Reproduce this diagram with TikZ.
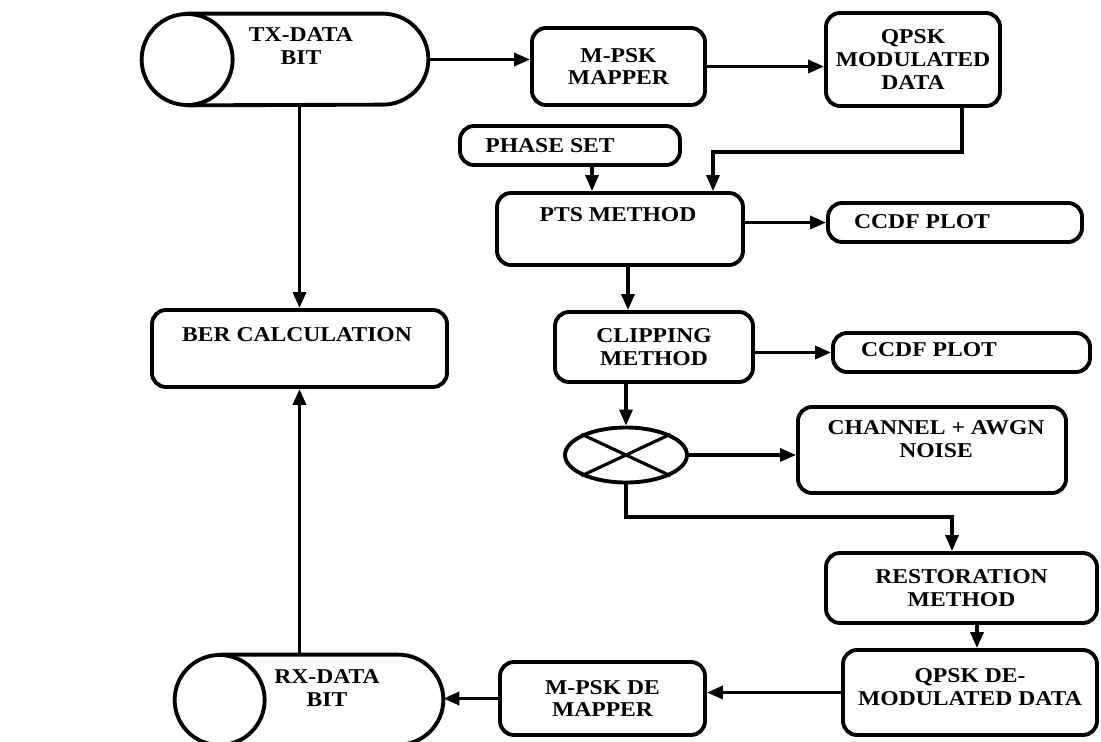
\documentclass[tikz,border=0pt]{standalone}
\usepackage{fontspec}
\setmainfont{Liberation Serif}[FakeStretch=1.12]
\usetikzlibrary{arrows.meta,shapes.geometric}

\begin{document}
\begin{tikzpicture}[
  box/.style={draw, line width=2.2pt, rounded corners=0.28cm, align=center, inner sep=0pt},
  drum/.style={inner sep=0pt},
  txt/.style={align=center, inner sep=0pt},
  arr/.style={-{Triangle[length=0.32cm,width=0.26cm]}, line width=1.9pt},
  font=\fontsize{12}{13}\selectfont\bfseries
]
\useasboundingbox (0,0) rectangle (22.02,-14.84);

% top row
\node[drum, minimum width=5.72cm, minimum height=1.82cm] (tx) at (5.7,-1.19) {};
\draw[line width=2.2pt] ([xshift=0.91cm]tx.north west) -- ([xshift=-0.91cm]tx.north east)
  arc[start angle=90, end angle=-90, radius=0.91cm] -- ([xshift=0.91cm]tx.south west);
\draw[line width=2.2pt] ([xshift=0.91cm]tx.west) circle (0.91cm);
\node[txt] (txtxt) at (6.02,-0.92) {TX-DATA\\BIT};
\node[box, minimum width=3.46cm, minimum height=1.54cm] (mpsk) at (12.37,-1.33) {M-PSK\\MAPPER};
\node[box, minimum width=3.48cm, minimum height=1.86cm] (qmod) at (18.26,-1.19) {QPSK\\MODULATED\\DATA};

\draw[arr] (tx.east) -- (tx.east -| mpsk.west);
\draw[arr] (mpsk.east) -- (mpsk.east -| qmod.west);

% pts and clipping
\node[box, minimum width=4.4cm, minimum height=0.78cm] (phase) at (11.4,-2.91) {};
\node[txt] (phasetxt) at (11.0,-2.92) {PHASE SET};
\node[box, minimum width=4.92cm, minimum height=1.44cm] (pts) at (12.4,-4.58) {};
\node[txt] (ptstxt) at (12.36,-4.3) {PTS METHOD};
\node[box, minimum width=5.08cm, minimum height=0.78cm] (ccdfa) at (19.1,-4.45) {};
\node[txt] (ccdfatxt) at (18.44,-4.44) {CCDF PLOT};
\node[box, minimum width=3.96cm, minimum height=1.4cm] (clip) at (13.08,-6.94) {CLIPPING\\METHOD};
\node[box, minimum width=5.14cm, minimum height=0.78cm] (ccdfb) at (19.23,-7.05) {};
\node[txt] (ccdfbtxt) at (18.58,-7.0) {CCDF PLOT};

\coordinate (qturn) at (19.24,-3.04);
\coordinate (pturn) at (14.26,-3.04);
\coordinate (phdown) at (11.84,-2.91);
\draw[arr] (qturn |- qmod.south) -- (qturn) -- (pturn) -- (pturn |- pts.north);
\draw[arr] (phdown |- phase.south) -- (phdown |- pts.north);
\draw[arr] (pts.east |- ccdfa) -- (ccdfa.west);
\coordinate (ptsdown) at (12.56,-4.58);
\draw[arr] (ptsdown |- pts.south) -- (ptsdown |- clip.north);
\draw[arr] (clip.east |- ccdfb) -- (ccdfb.west);

% channel
\node[draw, line width=2.2pt, ellipse, minimum width=2.44cm, minimum height=1.1cm, inner sep=0pt] (mult) at (12.52,-9.1) {};
\draw[line width=1.8pt] (mult.north west) -- (mult.south east);
\draw[line width=1.8pt] (mult.north east) -- (mult.south west);
\node[box, minimum width=5.36cm, minimum height=1.72cm] (chan) at (18.64,-9.0) {};
\node[txt] (chantxt) at (18.72,-8.78) {CHANNEL + AWGN\\NOISE};

\draw[arr] (clip.south -| mult) -- (mult.north);
\draw[arr] (mult.east) -- (mult.east -| chan.west);

% receiver side
\node[box, minimum width=5.42cm, minimum height=1.4cm] (rest) at (19.23,-11.76) {RESTORATION\\METHOD};
\node[box, minimum width=5.08cm, minimum height=1.7cm] (qde) at (19.4,-13.85) {};
\node[txt] (qdetxt) at (19.4,-13.74) {QPSK DE-\\MODULATED DATA};
\node[box, minimum width=4.1cm, minimum height=1.46cm] (mde) at (12.05,-13.97) {M-PSK DE\\MAPPER};
\node[drum, minimum width=5.36cm, minimum height=1.8cm] (rx) at (6.18,-14.0) {};
\draw[line width=2.2pt] ([xshift=0.9cm]rx.north west) -- ([xshift=-0.9cm]rx.north east)
  arc[start angle=90, end angle=-90, radius=0.9cm] -- ([xshift=0.9cm]rx.south west);
\draw[line width=2.2pt] ([xshift=0.9cm]rx.west) circle (0.9cm);
\node[txt] (rxtxt) at (6.54,-13.76) {RX-DATA\\BIT};
\node[box, minimum width=5.9cm, minimum height=1.54cm] (ber) at (5.99,-6.97) {};
\node[txt] (bertxt) at (5.94,-6.7) {BER CALCULATION};

\coordinate (turn) at (19.04,-10.34);
\draw[arr] (mult.south) |- (turn) -- (turn |- rest.north);
\coordinate (rdown) at (19.54,-11.76);
\draw[arr] (rdown |- rest.south) -- (rdown |- qde.north);
\draw[arr] (qde.west) -- (qde.west -| mde.east);
\draw[arr] (mde.west) -- (mde.west -| rx.east);
\draw[arr] (ber.north |- tx.south) -- (ber.north);
\draw[arr] (ber.south |- rx.north) -- (ber.south);

\end{tikzpicture}
\end{document}
